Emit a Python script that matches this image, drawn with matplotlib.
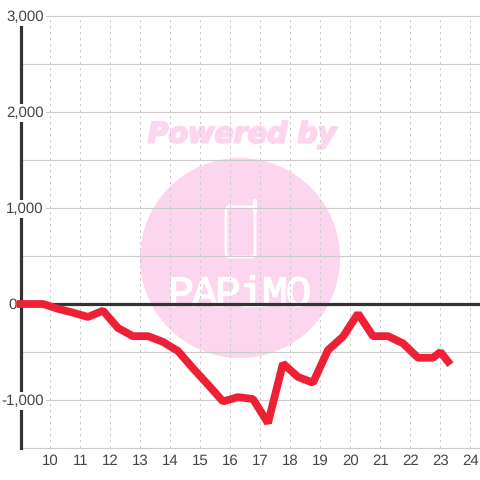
import matplotlib
matplotlib.use('Agg')
import matplotlib.pyplot as plt
import matplotlib.patheffects as pe
from matplotlib.patches import Circle, FancyBboxPatch

plt.rcParams['font.family'] = ['Liberation Sans', 'DejaVu Sans']
plt.rcParams['text.hinting'] = 'none'

hours = [9, 9.25, 9.75, 10.25, 10.75, 11.25, 11.75, 12.25, 12.75, 13.25, 13.75,
         14.25, 14.75, 15.25, 15.75, 16.25, 16.75, 17.25, 17.75, 18.25, 18.75,
         19.25, 19.75, 20.25, 20.75, 21.25, 21.75, 22.25, 22.75, 23, 23.25]
values = [0, 0, 0, -50, -90, -135, -70, -250, -335, -335, -395,
          -490, -670, -840, -1015, -970, -990, -1240, -620, -760, -820,
          -480, -340, -100, -335, -335, -410, -560, -560, -500, -600]

x_ticks = list(range(10, 25))
y_major = [-1000, 0, 1000, 2000, 3000]
y_labels = ['-1,000', '0', '1,000', '2,000', '3,000']
y_grid = [-1500, -1000, -500, 0, 500, 1000, 1500, 2000, 2500, 3000]

PINK = '#fcd6ee'
DARK = '#333333'
GRID = '#cccccc'

fig = plt.figure(figsize=(4.8, 4.8), dpi=100)

# watermark goes underneath, in pixel coordinates
bg = fig.add_axes([0, 0, 1, 1], zorder=0)
bg.set_xlim(0, 480)
bg.set_ylim(480, 0)
bg.axis('off')
bg.add_patch(Circle((240, 258), 100, fc=PINK, ec='none'))
bg.text(242, 135, 'Powered by', color=PINK, fontsize=20.5, fontweight='bold',
        fontstyle='italic', family='DejaVu Sans', ha='center', va='center',
        path_effects=[pe.withStroke(linewidth=1.5, foreground=PINK)])
bg.add_patch(FancyBboxPatch((226, 207), 29, 50, boxstyle='round,pad=0,rounding_size=3',
                            fc='none', ec='white', lw=2))
bg.plot([254.5, 254.5], [201, 210], color='white', lw=3, solid_capstyle='round')
for i, letter in enumerate('PAPiMO'):
    bg.text(181 + i * 23.5, 306, letter, color='white', fontsize=31,
            family='Liberation Mono', ha='center', va='baseline',
            path_effects=[pe.withStroke(linewidth=1, foreground='white')])

ax = fig.add_axes([20.5 / 480, 32 / 480, 459.5 / 480, 432 / 480], zorder=1)
ax.patch.set_alpha(0)
ax.set_xlim(9, 24.317)
ax.set_ylim(-1500, 3000)

for s in ['top', 'right', 'bottom']:
    ax.spines[s].set_visible(False)
ax.spines['left'].set_color(DARK)
ax.spines['left'].set_linewidth(2.3)

for v in x_ticks:
    ax.axvline(v, color=GRID, lw=0.72, ls=(0, (2.5, 3.5)), zorder=1)
for v in y_grid:
    ax.axhline(v, color=GRID, lw=0.85, zorder=1, clip_on=False)
ax.axhline(0, color=DARK, lw=2.3, zorder=3)

ax.set_yticks([])
ax.set_xticks(x_ticks)
ax.tick_params(axis='x', length=0, pad=4.5, labelsize=10.8, labelcolor='#444444')

for v, lab in zip(y_major, y_labels):
    dx = -4 if v == 0 else 23
    ax.annotate(lab, xy=(0, v), xycoords=ax.get_yaxis_transform(), xytext=(dx, -1),
                textcoords='offset pixels', ha='right', va='center', fontsize=10.8,
                color='#444444', zorder=4, annotation_clip=False,
                bbox=dict(fc='white', ec='none', pad=1.5))

ax.plot(hours, values, color='#ee2036', lw=5.6, zorder=5, clip_on=False,
        solid_joinstyle='bevel', solid_capstyle='projecting')

fig.savefig('out.png', dpi=100)
